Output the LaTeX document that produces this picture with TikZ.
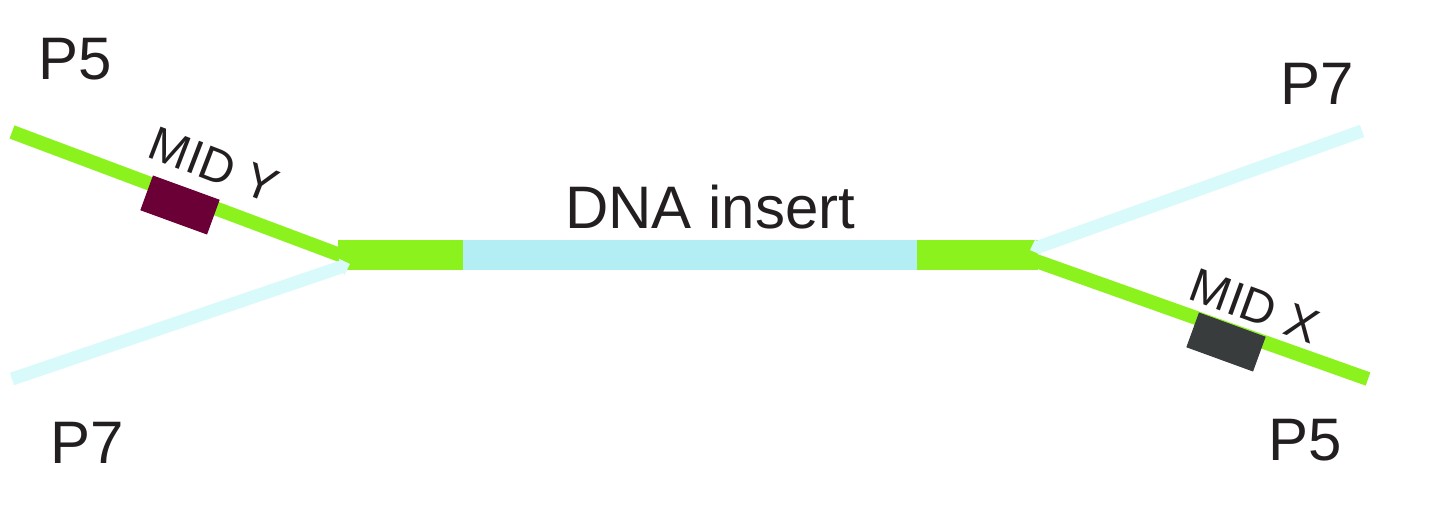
\documentclass[tikz,border=0pt]{standalone}
\usepackage{fontspec}
\setmainfont{Liberation Sans}
\usetikzlibrary{arrows.meta}
\definecolor{lime}{RGB}{140,242,30}
\definecolor{barcyan}{RGB}{179,238,245}
\definecolor{strandcyan}{RGB}{217,250,251}
\definecolor{maroon}{RGB}{106,0,53}
\definecolor{darkbox}{RGB}{56,60,60}
\definecolor{txt}{RGB}{35,31,32}
\tikzset{
  greenstrand/.style={draw=lime, line width=14pt},
  cyanstrand/.style={draw=strandcyan, line width=13pt, -{Triangle[length=9pt,width=17pt]}},
  barseg/.style={line width=30pt},
  biglabel/.style={text=txt, font=\fontsize{60}{72}\selectfont, inner sep=0pt, anchor=base west},
  midlabel/.style={text=txt, font=\fontsize{48}{56}\selectfont, inner sep=0pt},
  midbox/.style={minimum width=71pt, minimum height=37pt, inner sep=0pt}
}
\begin{document}
\begin{tikzpicture}[x=1pt,y=-1pt]
\useasboundingbox[fill=white] (0,0) rectangle (1435,516);
% coordinates
\coordinate (LGend) at (12,132);
\coordinate (J1) at (340,255);
\coordinate (LCend) at (12,379);
\coordinate (J1c) at (350,264);
\coordinate (B0) at (338,255);
\coordinate (B1) at (463,255);
\coordinate (B2) at (917,255);
\coordinate (B3) at (1038,255);
\coordinate (J2) at (1036,261);
\coordinate (RGend) at (1368,379);
\coordinate (RCend) at (1362,131);
\coordinate (J2c) at (1030,250);
% strands
\draw[greenstrand] (LGend) -- (J1);
\draw[greenstrand] (J2) -- (RGend);
% central bar
\draw[barseg, draw=lime] (B0) -- (B1);
\draw[barseg, draw=barcyan] (B1) -- (B2);
\draw[barseg, draw=lime] (B2) -- (B3);
% cyan strands
\draw[cyanstrand] (LCend) -- (J1c);
\draw[cyanstrand] (RCend) -- (J2c);
% MID boxes
\node[midbox, fill=maroon, rotate=-20] (midy) at (180,205) {};
\node[midbox, fill=darkbox, rotate=-20] (midx) at (1226,342) {};
\node[midlabel, rotate=-21] (midytext) at (214,165) {MID Y};
\node[midlabel, rotate=-20] (midxtext) at (1255,306) {MID X};
% labels
\node[biglabel] (p5a) at (38,80) {P5};
\node[biglabel] (p7a) at (1280,105) {P7};
\node[biglabel] (p7b) at (50,463) {P7};
\node[biglabel] (p5b) at (1268,460) {P5};
\node[biglabel] (dna) at (565,228) {DNA insert};
\end{tikzpicture}
\end{document}
